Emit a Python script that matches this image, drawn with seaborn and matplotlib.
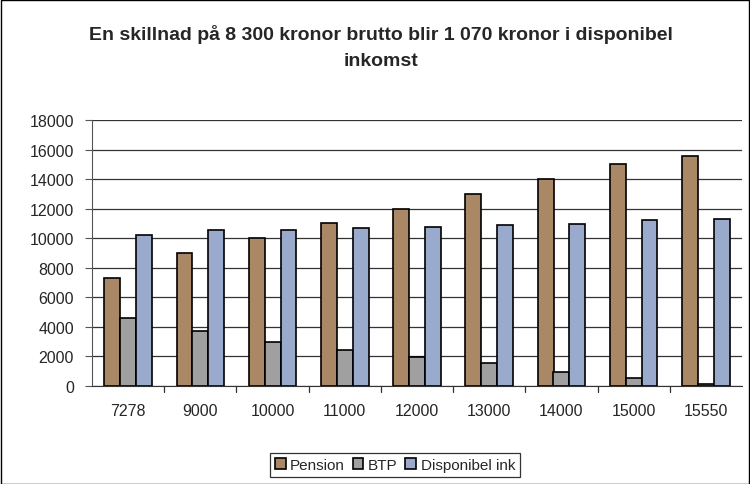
import matplotlib
matplotlib.use("Agg")
import matplotlib.pyplot as plt
import seaborn as sns
import pandas as pd
import numpy as np

categories = ["7278", "9000", "10000", "11000", "12000", "13000", "14000", "15000", "15550"]
pension = [7278, 9000, 10000, 11000, 12000, 13000, 14000, 15000, 15550]
btp = [4580, 3700, 2990, 2430, 1940, 1530, 950, 520, 150]
disponibel = [10200, 10540, 10540, 10680, 10760, 10880, 10990, 11260, 11270]
series_names = ["Pension", "BTP", "Disponibel ink"]
colors = ["#AA8866", "#A0A0A0", "#99AACC"]

df = pd.DataFrame({
    "cat": categories * 3,
    "val": pension + btp + disponibel,
    "serie": [series_names[0]] * 9 + [series_names[1]] * 9 + [series_names[2]] * 9,
})

sns.set_style("white")
plt.rcParams["font.family"] = ["Liberation Sans", "DejaVu Sans"]

fig = plt.figure(figsize=(7.5, 4.85), dpi=100)
ax = fig.add_axes([92/750, 1-387/485, (742-92)/750, (387-121)/485])

sns.barplot(data=df, x="cat", y="val", hue="serie", order=categories,
            hue_order=series_names, palette=colors, width=0.66,
            edgecolor="black", linewidth=1.2, saturation=1, ax=ax, legend=True)

ax.set_ylim(0, 18000)
ax.set_xlim(-0.5, 8.5)
ax.set_yticks(np.arange(0, 18001, 2000))
ax.set_yticklabels([str(v) for v in range(0, 18001, 2000)], fontsize=11.5)
ax.set_xticks(range(9))
ax.set_xticklabels(categories, fontsize=11.5)
ax.set_xlabel("")
ax.set_ylabel("")
ax.yaxis.grid(True, color="#333333", linewidth=0.9)
ax.set_axisbelow(True)
for s in ["top", "right"]:
    ax.spines[s].set_visible(False)
ax.spines["left"].set_color("#555555")
ax.spines["bottom"].set_color("#333333")
ax.tick_params(axis="x", length=0, pad=12)
ax.tick_params(axis="y", length=5, color="#555555", direction="out", left=True, pad=8)
for xb in np.arange(0.5, 8.5, 1.0):
    ax.plot([xb, xb], [0, -0.022], transform=ax.get_xaxis_transform(), color="#333333",
            linewidth=0.9, clip_on=False)

fig.text(381/750, 1-35/485, "En skillnad på 8 300 kronor brutto blir 1 070 kronor i disponibel",
         ha="center", va="center", fontsize=14, fontweight="bold")
fig.text(381/750, 1-61/485, "inkomst", ha="center", va="center", fontsize=14, fontweight="bold")

handles, labels = ax.get_legend_handles_labels()
ax.legend(handles, labels, loc="center", bbox_to_anchor=(395/750, 1-466/485),
          bbox_transform=fig.transFigure, ncol=3, frameon=True, fancybox=False,
          edgecolor="black", fontsize=11, handlelength=0.7, handleheight=0.7,
          handletextpad=0.3, columnspacing=0.5, borderpad=0.3)
leg = ax.get_legend()
leg.get_frame().set_linewidth(0.9)

fig.patches.append(plt.Rectangle((0.001, 0.001), 0.997, 0.997, transform=fig.transFigure,
                                 fill=False, edgecolor="black", linewidth=1))

fig.savefig("out.png", dpi=100)
